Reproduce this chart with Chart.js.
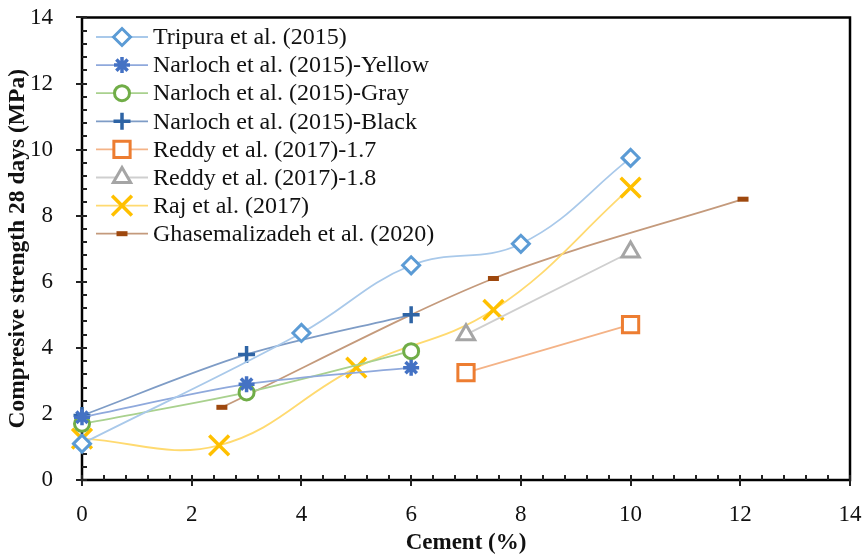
<!DOCTYPE html>
<html>
<head>
<meta charset="utf-8">
<script src="https://cdn.jsdelivr.net/npm/chart.js@4"></script>
<style>
  html, body { margin: 0; padding: 0; background: #fff; }
  #wrap { width: 868px; height: 557px; }
</style>
</head>
<body>
<div id="wrap"><canvas id="chart"></canvas></div>
<script>
// values
const tripuraX = [0, 4, 6, 8, 10];
const tripuraY = [1.1, 4.45, 6.5, 7.15, 9.75];
const yellowX = [0, 3, 6];
const yellowY = [1.9, 2.9, 3.4];
const grayX = [0, 3, 6];
const grayY = [1.7, 2.65, 3.9];
const blackX = [0, 3, 6];
const blackY = [1.95, 3.8, 5.0];
const reddy17X = [7, 10];
const reddy17Y = [3.25, 4.7];
const reddy18X = [7, 10];
const reddy18Y = [4.4, 6.9];
const rajX = [0, 2.5, 5, 7.5, 10];
const rajY = [1.25, 1.05, 3.4, 5.15, 8.85];
const ghasemX = [2.55, 7.5, 12.05];
const ghasemY = [2.2, 6.1, 8.5];

const seriesNames = [
  "Tripura et al. (2015)",
  "Narloch et al. (2015)-Yellow",
  "Narloch et al. (2015)-Gray",
  "Narloch et al. (2015)-Black",
  "Reddy et al. (2017)-1.7",
  "Reddy et al. (2017)-1.8",
  "Raj et al. (2017)",
  "Ghasemalizadeh et al. (2020)"
];
const xTicks = [0, 2, 4, 6, 8, 10, 12, 14];
const yTicks = [0, 2, 4, 6, 8, 10, 12, 14];

function pts(xs, ys) {
  return xs.map((x, i) => ({ x: x, y: ys[i] }));
}

function series(i, xs, ys, marker, line, style, radius, width, tension) {
  return {
    label: seriesNames[i],
    data: pts(xs, ys),
    showLine: true,
    clip: false,
    borderColor: line,
    borderWidth: 1.8,
    tension: tension,
    pointStyle: style,
    pointRadius: radius,
    pointBorderWidth: width,
    pointBorderColor: marker,
    pointBackgroundColor: style === "line" ? marker : "#fff",
    pointHoverRadius: radius
  };
}

const datasets = [
  series(0, tripuraX, tripuraY, "#5B9BD5", "#A9C9EA", "rectRot", 8.5, 3, 0.4),
  series(1, yellowX, yellowY, "#4472C4", "#8FA9DC", "star", 8, 3.5, 0.3),
  series(2, grayX, grayY, "#70AD47", "#A9D18E", "circle", 7.5, 3, 0.3),
  series(3, blackX, blackY, "#2E64A5", "#7E9CC6", "cross", 8.5, 3.5, 0.3),
  series(4, reddy17X, reddy17Y, "#ED7D31", "#F4B387", "rect", 11.5, 3, 0),
  series(5, reddy18X, reddy18Y, "#A5A5A5", "#CFCFCF", "triangle", 10, 3, 0),
  series(6, rajX, rajY, "#FFC000", "#FFDA70", "crossRot", 14, 3.5, 0.4),
  series(7, ghasemX, ghasemY, "#9E480E", "#C49A7C", "line", 5.5, 5, 0.3)
];

const frame = {
  id: "frame",
  beforeDatasetsDraw(chart) {
    const ctx = chart.ctx;
    const a = chart.chartArea;
    const xs = chart.scales.x, ys = chart.scales.y;
    ctx.save();
    // box
    ctx.strokeStyle = "#000";
    ctx.lineWidth = 2.5;
    ctx.strokeRect(a.left, a.top, a.right - a.left, a.bottom - a.top);
    // ticks
    ctx.lineWidth = 2;
    ctx.strokeStyle = "#222";
    for (let v = 0; v <= 14.001; v += 0.4) {
      const major = Math.abs(v / 2 - Math.round(v / 2)) < 1e-6;
      const px = Math.round(xs.getPixelForValue(v));
      const py = Math.round(ys.getPixelForValue(v));
      ctx.beginPath();
      ctx.moveTo(px, a.bottom - 5);
      ctx.lineTo(px, a.bottom + (major ? 6 : 0));
      ctx.moveTo(a.left + 5, py);
      ctx.lineTo(a.left - (major ? 6 : 0), py);
      ctx.stroke();
    }
    ctx.restore();
  },
  afterDatasetsDraw(chart) {
    const ctx = chart.ctx;
    ctx.save();
    // legend
    ctx.font = "24px 'Liberation Serif'";
    ctx.textBaseline = "middle";
    ctx.textAlign = "left";
    chart.data.datasets.forEach((ds, i) => {
      const y = 37 + i * 28.1;
      ctx.strokeStyle = ds.borderColor;
      ctx.lineWidth = 1.8;
      ctx.beginPath();
      ctx.moveTo(96, y);
      ctx.lineTo(148, y);
      ctx.stroke();
      ctx.strokeStyle = ds.pointBorderColor;
      ctx.fillStyle = ds.pointBackgroundColor;
      ctx.lineWidth = ds.pointBorderWidth;
      Chart.helpers.drawPoint(ctx, {
        pointStyle: ds.pointStyle,
        radius: ds.pointRadius,
        borderWidth: ds.pointBorderWidth,
        rotation: 0
      }, 122, y);
      ctx.fillStyle = "#111";
      ctx.fillText(ds.label, 153, y + 1);
    });
    ctx.restore();
  }
};

function noPad(s) {
  s.paddingTop = 0;
  s.paddingBottom = 0;
  s.paddingLeft = 0;
  s.paddingRight = 0;
}

new Chart(document.getElementById("chart"), {
  type: "scatter",
  data: { datasets: datasets },
  plugins: [frame],
  options: {
    responsive: true,
    maintainAspectRatio: false,
    animation: false,
    layout: { padding: { left: 0, right: 18, top: 16, bottom: 0 } },
    plugins: {
      legend: { display: false },
      tooltip: { enabled: false }
    },
    scales: {
      x: {
        type: "linear",
        min: 0,
        max: 14,
        afterBuildTicks: (s) => { s.ticks = xTicks.map((v) => ({ value: v })); },
        afterFit: (s) => { s.height = 77; noPad(s); },
        grid: { display: false },
        border: { display: false },
        ticks: {
          color: "#111",
          padding: 13,
          font: { family: "Liberation Serif", size: 23 }
        },
        title: {
          display: true,
          text: "Cement (%)",
          color: "#111",
          padding: { top: 0, bottom: 0 },
          font: { family: "Liberation Serif", size: 23, weight: "bold" }
        }
      },
      y: {
        type: "linear",
        min: 0,
        max: 14,
        afterBuildTicks: (s) => { s.ticks = yTicks.map((v) => ({ value: v })); },
        afterFit: (s) => { s.width = 82; noPad(s); },
        grid: { display: false },
        border: { display: false },
        ticks: {
          color: "#111",
          padding: 21,
          font: { family: "Liberation Serif", size: 23 }
        },
        title: {
          display: true,
          text: "Compresive strength 28 days (MPa)",
          color: "#111",
          padding: { top: 4, bottom: 2 },
          font: { family: "Liberation Serif", size: 23.5, weight: "bold" }
        }
      }
    }
  }
});
</script>
</body>
</html>
